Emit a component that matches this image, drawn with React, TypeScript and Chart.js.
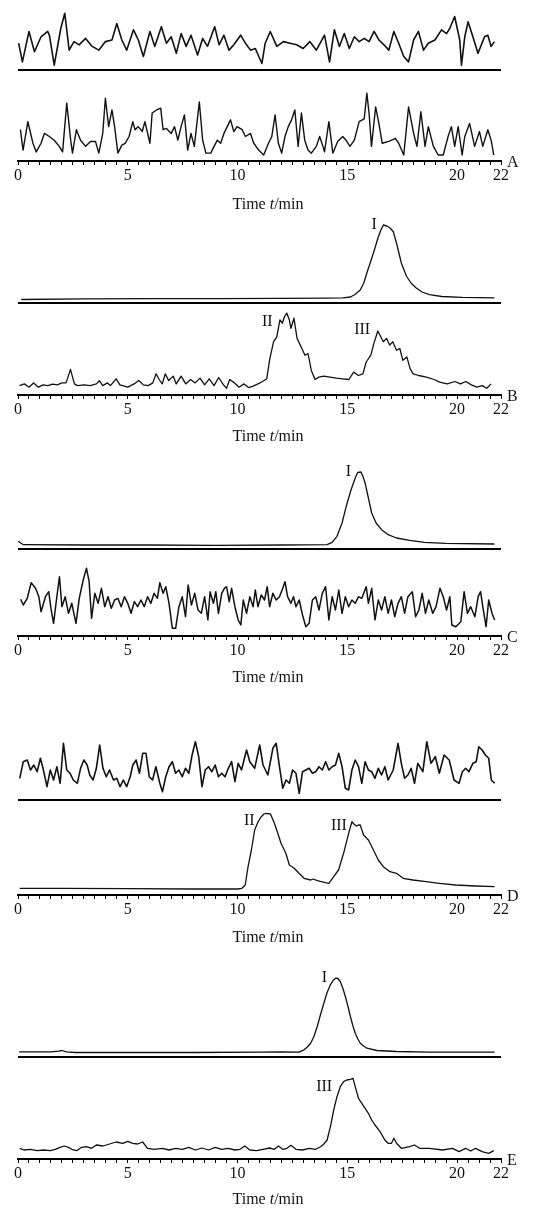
import React, { useEffect, useRef } from 'react';
import { Chart, registerables } from 'chart.js';

Chart.register(...registerables);

const FONT = '"Liberation Serif", "Times New Roman", serif';
const INK = '#111';

// ---------- shared axis text ----------
const xTickLabels = [0, 5, 10, 15, 20, 22];
const xMin = 0;
const xMax = 22;
const xMinorStep = 0.5;
const titleParts: [string, boolean][] = [['Time ', false], ['t', true], ['/min', false]];

// ---------- Panel A ----------
const aTopT = [0.03,0.20,0.50,0.75,1.05,1.35,1.43,1.65,1.95,2.13,2.33,2.55,2.78,3.08,3.38,3.68,3.98,4.28,4.50,4.73,4.95,5.26,5.48,5.71,6.01,6.23,6.53,6.76,6.98,7.21,7.43,7.66,7.88,8.18,8.41,8.63,8.96,9.16,9.38,9.61,9.83,10.14,10.36,10.59,10.81,11.11,11.26,11.49,11.79,12.09,12.39,12.69,12.99,13.29,13.59,13.96,14.19,14.41,14.64,14.86,15.09,15.32,15.54,15.77,15.99,16.22,16.44,16.67,16.89,17.12,17.34,17.57,17.79,18.02,18.24,18.47,18.69,18.99,19.29,19.52,19.67,19.89,20.12,20.20,20.35,20.50,20.72,20.95,21.25,21.40,21.55,21.70];
const aTopV = [44,9,66,28,56,66,59,3,72,100,31,47,41,53,38,31,47,50,81,50,31,69,50,19,66,38,75,44,56,25,62,38,59,22,53,38,75,41,59,31,41,59,44,31,34,6,44,66,38,47,44,41,34,47,31,59,9,69,38,62,34,56,47,53,47,66,50,41,31,66,44,19,9,50,66,31,44,50,69,62,72,94,50,3,56,84,56,25,56,59,38,47];
const aBotT = [0.11,0.23,0.45,0.68,0.83,1.05,1.20,1.43,1.65,1.88,2.03,2.22,2.40,2.48,2.66,2.85,3.08,3.30,3.53,3.68,3.86,3.98,4.13,4.28,4.40,4.55,4.73,4.88,5.06,5.23,5.33,5.48,5.66,5.78,6.01,6.11,6.31,6.50,6.61,6.76,6.98,7.13,7.28,7.43,7.58,7.73,7.88,8.03,8.26,8.41,8.56,8.78,8.93,9.08,9.23,9.38,9.68,9.83,9.98,10.21,10.36,10.59,10.74,10.96,11.19,11.41,11.56,11.71,11.86,12.01,12.16,12.31,12.46,12.61,12.76,12.91,13.06,13.21,13.36,13.59,13.74,13.89,13.96,14.16,14.34,14.56,14.79,14.94,15.12,15.32,15.54,15.69,15.77,15.89,15.99,16.10,16.29,16.44,16.59,16.89,17.19,17.34,17.57,17.79,18.02,18.17,18.35,18.54,18.69,18.92,19.14,19.37,19.59,19.74,19.89,20.05,20.23,20.35,20.57,20.80,21.02,21.17,21.40,21.55,21.67];
const aBotV = [41,8,54,19,5,19,35,30,24,14,5,84,24,3,41,24,14,22,22,3,35,92,46,73,46,3,16,19,30,54,41,46,38,54,19,68,73,76,41,43,35,46,24,46,65,8,35,14,86,24,3,3,14,24,19,35,57,38,46,41,30,35,19,8,0,19,30,65,19,3,30,46,57,73,14,68,24,8,3,14,30,14,5,54,3,22,30,24,14,24,54,57,59,100,68,14,78,51,19,22,27,19,0,78,35,14,70,14,46,14,0,0,30,46,14,46,0,30,51,14,38,14,41,24,0];

// ---------- Panel B ----------
const bTopT = [0.15,3,6,9,12,14,14.8,15.14,15.35,15.59,15.75,15.89,16.04,16.19,16.3,16.41,16.53,16.64,16.8,16.95,17.09,17.24,17.35,17.46,17.69,17.9,18.14,18.4,18.74,19.3,20.24,21.7];
const bTopV = [3.5,4.2,4.4,4.3,4.6,4.8,5.2,6,8.5,13,20,30,40,50,58,66,73,78,77,75,71.5,60,50,40,27,20,15,11,8.3,6.5,5.7,5.2];
const bBotT = [0.07,0.29,0.50,0.71,0.93,1.14,1.36,1.57,1.79,2.00,2.19,2.39,2.57,2.71,3.00,3.29,3.57,3.71,3.86,4.07,4.21,4.47,4.64,5.00,5.29,5.50,5.71,5.93,6.14,6.29,6.43,6.57,6.71,6.86,7.07,7.21,7.43,7.64,7.86,8.07,8.29,8.50,8.71,8.93,9.14,9.36,9.50,9.64,9.86,10.07,10.29,10.50,10.71,10.93,11.14,11.33,11.47,11.64,11.79,11.93,12.04,12.14,12.24,12.36,12.43,12.57,12.71,12.93,13.07,13.21,13.36,13.53,13.71,13.93,14.21,14.50,14.79,15.07,15.29,15.50,15.71,15.86,16.07,16.21,16.39,16.50,16.64,16.79,16.93,17.07,17.24,17.39,17.53,17.71,17.86,18.00,18.25,18.60,18.95,19.20,19.55,19.90,20.15,20.40,20.65,20.90,21.15,21.35,21.55];
const bBotV = [9.4,11.1,7.8,12.1,7.8,10.1,9.4,10.8,10.1,12.1,12.1,25.6,11.1,9.4,10.1,9.4,11.1,14.2,9.4,12.1,9.4,16.2,10.1,7.8,11.1,14.5,10.1,9.4,12.1,21.2,15.5,11.1,21.2,14.5,18.9,11.1,18.9,11.1,15.5,12.1,16.9,10.1,16.2,9.4,17.5,10.1,6.7,15.5,12.1,7.8,11.1,7.4,8.8,11.1,13.5,16.2,36.4,53.2,58.3,75.2,71.8,78.5,81.9,75.2,66.7,76.8,56.6,46.5,39.8,41.5,24.6,15.5,17.9,18.9,17.9,16.9,16.2,15.5,22.9,19.5,21.2,33.0,39.8,51.6,64.0,59.3,53.2,56.6,49.9,53.2,44.8,46.5,34.7,38.1,26.3,21.2,19.5,17.9,15.5,12.8,11.1,13.5,11.1,13.5,10.1,7.8,9.4,6.7,11.1];

// ---------- Panel C ----------
const cTopT = [0.0,0.25,3,6,9,12,14.08,14.31,14.53,14.76,14.95,15.17,15.36,15.48,15.62,15.71,15.81,15.96,16.11,16.31,16.56,16.86,17.24,17.84,18.51,19.49,21.7];
const cTopV = [7.7,4.3,4.0,4.0,3.7,4.0,4.3,6.7,12.7,26,42.7,59.3,71,76.7,77,72.7,66,51,36,26,19.3,14.3,11,8.7,6.7,5.7,5];
const cBotT = [0.12,0.24,0.42,0.60,0.80,0.95,1.05,1.25,1.40,1.50,1.62,1.77,1.89,2.00,2.15,2.30,2.45,2.64,2.79,2.97,3.12,3.24,3.35,3.50,3.65,3.80,3.95,4.10,4.25,4.40,4.55,4.70,4.85,5.00,5.15,5.30,5.45,5.60,5.75,5.90,6.05,6.20,6.35,6.46,6.61,6.73,6.88,7.03,7.18,7.33,7.48,7.63,7.75,7.90,8.05,8.20,8.35,8.50,8.65,8.75,8.90,9.01,9.13,9.28,9.40,9.50,9.62,9.73,9.88,10.03,10.15,10.26,10.41,10.56,10.71,10.81,10.93,11.08,11.23,11.35,11.46,11.61,11.76,11.91,12.06,12.16,12.28,12.43,12.55,12.66,12.81,12.96,13.11,13.26,13.41,13.56,13.71,13.86,14.01,14.16,14.31,14.46,14.61,14.76,14.91,15.06,15.21,15.36,15.51,15.66,15.86,15.96,16.11,16.26,16.41,16.56,16.71,16.86,17.01,17.16,17.31,17.46,17.61,17.76,17.96,18.11,18.26,18.41,18.56,18.71,18.89,19.04,19.22,19.37,19.52,19.67,19.76,19.94,20.17,20.32,20.47,20.62,20.81,20.96,21.07,21.17,21.32,21.44,21.59,21.71];
const cBotV = [36.7,31,37.7,53.3,47.7,39.3,24.3,39.3,44.3,27.7,12.7,39.3,59.3,29.3,39.3,22.7,32.7,12.7,37.7,56,67.7,54.3,17.7,42.7,32.7,47.7,29.3,39.3,27.7,36,37.7,29.3,39.3,32.7,22.7,34.3,29.3,36,29.3,39.3,32.7,42.7,37.7,53.3,42.7,49.3,32.7,7.7,7.7,29.3,39.3,19.3,51,31,42.7,26,22.7,39.3,16,44.3,32.7,44.3,22.7,42.7,47.7,49.3,34.3,47.7,29.3,16,11,36,22.7,39.3,29.3,46,29.3,41,36,49.3,29.3,42.7,36,39.3,47.7,54.3,39.3,32.7,39.3,29.3,36,21,9.3,12.7,36,39.3,26,42.7,49.3,16,39.3,26,46,22.7,39.3,29.3,36,32.7,39.3,37.7,49.3,32.7,47.7,16,36,26,39.3,22.7,36,19.3,32.7,39.3,22.7,39.3,44.3,19.3,26,42.7,22.7,36,22.7,29.3,47.7,39.3,26,39.3,11,9.3,14.3,44.3,22.7,29.3,19.3,39.3,44.3,29.3,9.3,36,22.7,16];

// ---------- Panel D ----------
const dTopT = [0.08,0.24,0.42,0.57,0.72,0.87,1.02,1.14,1.32,1.47,1.62,1.77,1.92,2.07,2.22,2.37,2.52,2.70,2.85,3.00,3.15,3.27,3.42,3.57,3.72,3.87,4.02,4.17,4.35,4.50,4.65,4.80,4.95,5.11,5.23,5.38,5.53,5.68,5.83,5.98,6.13,6.28,6.46,6.58,6.73,6.88,7.03,7.18,7.33,7.48,7.63,7.78,7.93,8.08,8.23,8.38,8.53,8.68,8.83,8.98,9.13,9.28,9.43,9.58,9.73,9.88,10.03,10.18,10.41,10.56,10.78,11.01,11.16,11.38,11.61,11.76,11.91,12.06,12.21,12.36,12.51,12.66,12.81,12.96,13.11,13.26,13.41,13.56,13.71,13.86,14.01,14.16,14.31,14.46,14.61,14.76,14.91,15.06,15.21,15.36,15.51,15.66,15.81,15.96,16.11,16.26,16.41,16.56,16.71,16.86,17.09,17.31,17.46,17.61,17.76,17.91,18.06,18.21,18.44,18.62,18.81,19.01,19.19,19.41,19.64,19.86,20.09,20.24,20.39,20.54,20.72,20.87,20.99,21.14,21.29,21.44,21.56,21.71];
const dTopV = [21.7,38.3,40,30,35,28.3,41.7,31.7,13.3,30,20,33.3,16.7,56.7,30,26.7,20,16.7,31.7,40,35,25,20,31.7,55,31.7,23.3,30,20,21.7,13.3,20,13.3,23.3,35,40,26.7,46.7,46.7,23.3,20,33.3,16.7,8.3,23.3,33.3,38.3,26.7,30,23.3,31.7,26.7,45,58.3,43.3,13.3,30,33.3,28.3,35,23.3,26.7,23.3,31.7,38.3,18.3,36.7,30,50,38.3,31.7,55,35,25,51.7,56.7,33.3,11.7,20,16.7,30,26.7,6.7,28.3,30,31.7,26.7,28.3,33.3,30,38.3,30,33.3,35,46.7,33.3,11.7,10,30,40,33.3,16.7,38.3,30,28.3,21.7,31.7,25,33.3,20,30,56.7,36.7,21.7,25,31.7,16.7,36.7,28.3,58.3,36.7,43.3,26.7,45,40,20,16.7,28.3,31.7,28.3,36.7,38.3,53.3,50,45,41.7,20,16.7];
const dBotT = [0.08,2,5,8,10.0,10.2,10.35,10.48,10.63,10.78,10.93,11.08,11.2,11.3,11.5,11.68,11.83,11.98,12.2,12.36,12.58,12.8,13.03,13.33,13.45,13.63,14.0,14.16,14.38,14.6,14.83,15.06,15.21,15.3,15.41,15.5,15.59,15.74,15.96,16.19,16.41,16.64,16.94,17.24,17.54,17.99,18.59,19.19,19.94,20.84,21.71];
const dBotV = [6.7,6.7,6.3,6.0,6.0,6.7,10,28.3,45,65,73,78.3,81,81.7,81,71.7,62,51.7,41.7,30,26.7,21.7,16.7,15,16,14.3,12.3,11.7,18.3,25,41.7,61.7,73.3,71,69,70,70,60,55,45,35,28.3,23.3,21.7,16.7,15,13.3,11.7,10,9,8.3];

// ---------- Panel E ----------
const eTopT = [0.05,1.5,1.85,2.0,2.2,2.6,5,8,11,12,12.8,13.03,13.18,13.33,13.48,13.63,13.78,13.93,14.08,14.23,14.35,14.46,14.57,14.68,14.8,14.91,15.03,15.14,15.25,15.36,15.48,15.59,15.74,15.89,16.34,17.24,18.74,21.71];
const eTopV = [4.7,4.7,5.3,6.0,4.7,4.0,4.0,4.0,4.3,4.6,4.3,6.7,9.5,13.3,20,30,42,53.3,64,71.7,76,78.3,78,75,68,60,50,40,31,23.3,17.5,13.3,10.5,8.3,6.0,5.0,4.3,4.3];
const eBotT = [0.08,0.27,0.57,0.87,1.17,1.47,1.70,1.92,2.10,2.30,2.45,2.67,2.90,3.12,3.35,3.57,3.87,4.17,4.47,4.77,5.00,5.23,5.45,5.68,5.90,6.20,6.58,6.88,7.18,7.48,7.78,8.08,8.38,8.68,8.98,9.28,9.58,9.88,10.11,10.33,10.56,10.86,11.16,11.46,11.68,11.86,12.06,12.25,12.43,12.66,12.96,13.26,13.56,13.78,13.93,14.08,14.23,14.38,14.53,14.68,14.83,14.98,15.14,15.26,15.36,15.51,15.66,15.81,15.96,16.11,16.26,16.49,16.71,16.86,17.01,17.12,17.24,17.46,17.84,18.06,18.29,18.74,19.34,19.79,20.09,20.39,20.62,20.84,21.14,21.44,21.67];
const eBotV = [10.7,9,9.7,8.3,9,8.3,9.7,11.7,13,11.7,9.7,8.3,11.7,12.3,10.7,14,13,15,17,15.7,17.7,15.7,15,17,10.7,9.7,10.7,9,10.7,9.7,11.7,9,11,9,11.7,9.7,10.7,9,9.7,13,9,8.3,9.7,11,9.7,13,9.7,10.7,13.7,9.7,9,10.7,9.7,12.3,15,19,32.3,49,62.3,72.3,77.3,79,79.7,80.7,72.3,60.7,55.7,50.7,45.7,39,34,27.3,19,15.7,15.7,20.7,15.7,10.7,12.3,14,10.7,10.7,9,10.7,7.3,10.7,8,10.7,7.3,5.7,8.3];

// ---------- layout (page coordinates) ----------
type Trace = { t: number[]; v: number[]; base: number; k: number; width: number };
type PeakLabel = { text: string; axis: 'yTop' | 'yBot'; t: number; v: number };
type PanelCfg = {
  letter: string; top: number; height: number; chartTop: number; sep: number; axis: number; timeY: number;
  upper: Trace; lower: Trace; labels: PeakLabel[];
};

const PANELS: PanelCfg[] = [
  {
    letter: 'A', top: 0, height: 214, chartTop: 8, sep: 70, axis: 161, timeY: 209,
    upper: { t: aTopT, v: aTopV, base: 3.3, k: 0.534, width: 1.6 },
    lower: { t: aBotT, v: aBotV, base: 6, k: 0.617, width: 1.4 },
    labels: [],
  },
  {
    letter: 'B', top: 214, height: 236, chartTop: 218, sep: 303, axis: 395, timeY: 441,
    upper: { t: bTopT, v: bTopV, base: 0, k: 1, width: 1.3 },
    lower: { t: bBotT, v: bBotV, base: 0, k: 1, width: 1.3 },
    labels: [
      { text: 'I', axis: 'yTop', t: 16.34, v: 78 },
      { text: 'II', axis: 'yBot', t: 11.6, v: 73 },
      { text: 'III', axis: 'yBot', t: 16.04, v: 65 },
    ],
  },
  {
    letter: 'C', top: 450, height: 250, chartTop: 462, sep: 549, axis: 636, timeY: 682,
    upper: { t: cTopT, v: cTopV, base: 0, k: 1, width: 1.3 },
    lower: { t: cBotT, v: cBotV, base: 0, k: 1, width: 1.5 },
    labels: [{ text: 'I', axis: 'yTop', t: 15.17, v: 77 }],
  },
  {
    letter: 'D', top: 700, height: 258, chartTop: 734, sep: 800, axis: 895, timeY: 942,
    upper: { t: dTopT, v: dTopV, base: 0, k: 1, width: 1.6 },
    lower: { t: dBotT, v: dBotV, base: 0, k: 1, width: 1.3 },
    labels: [
      { text: 'II', axis: 'yBot', t: 10.78, v: 74 },
      { text: 'III', axis: 'yBot', t: 14.98, v: 69 },
    ],
  },
  {
    letter: 'E', top: 958, height: 251, chartTop: 966, sep: 1056.5, axis: 1159, timeY: 1204,
    upper: { t: eTopT, v: eTopV, base: 0, k: 1, width: 1.3 },
    lower: { t: eBotT, v: eBotV, base: 0, k: 1, width: 1.3 },
    labels: [
      { text: 'I', axis: 'yTop', t: 14.08, v: 79 },
      { text: 'III', axis: 'yBot', t: 14.31, v: 72 },
    ],
  },
];

const PAGE_W = 550;
const PLOT_LEFT = 18;
const PLOT_RIGHT = 501;
const TITLE_CX = 268;
const X_AXIS_H = 24;

function buildConfig(p: PanelCfg): any {
  const up = p.upper;
  const lo = p.lower;
  const topL = p.chartTop - p.top;
  const axisL = p.axis - p.top;
  const yTopMin = (p.sep - p.axis - up.base) / up.k;
  const yTopMax = (p.sep - p.chartTop - up.base) / up.k;
  const sepV = -up.base / up.k;
  const yBotMin = -lo.base / lo.k;
  const yBotMax = (p.axis - p.chartTop - lo.base) / lo.k;
  const pts = (t: number[], v: number[]) => t.map((x, i) => ({ x, y: v[i] }));

  const textPlugin = {
    id: 'panelText' + p.letter,
    afterDraw(chart: any) {
      const ctx = chart.ctx as CanvasRenderingContext2D;
      const xs = chart.scales.x;
      ctx.save();
      ctx.fillStyle = INK;
      ctx.font = `16px ${FONT}`;
      ctx.textAlign = 'right';
      ctx.textBaseline = 'middle';
      for (const lab of p.labels) {
        const ys = chart.scales[lab.axis];
        ctx.fillText(lab.text, xs.getPixelForValue(lab.t), ys.getPixelForValue(lab.v));
      }
      ctx.textAlign = 'left';
      ctx.textBaseline = 'alphabetic';
      ctx.fillText(p.letter, xs.right + 6, xs.top + 6);
      // axis title with italic t
      const widths = titleParts.map(([s, it]) => {
        ctx.font = `${it ? 'italic ' : ''}16px ${FONT}`;
        return ctx.measureText(s).width;
      });
      const total = widths.reduce((a, b) => a + b, 0);
      let x = TITLE_CX - total / 2;
      const y = p.timeY - p.top;
      titleParts.forEach(([s, it], i) => {
        ctx.font = `${it ? 'italic ' : ''}16px ${FONT}`;
        ctx.fillText(s, x, y);
        x += widths[i];
      });
      ctx.restore();
    },
  };

  const line = (tr: Trace, axisId: string) => ({
    data: pts(tr.t, tr.v),
    xAxisID: 'x',
    yAxisID: axisId,
    borderColor: INK,
    borderWidth: tr.width,
    pointRadius: 0,
    tension: 0,
    fill: false,
    borderJoinStyle: 'round',
  });

  return {
    type: 'line',
    data: { datasets: [line(up, 'yTop'), line(lo, 'yBot')] },
    options: {
      responsive: false,
      animation: false,
      events: [],
      layout: {
        padding: {
          left: PLOT_LEFT,
          right: PAGE_W - PLOT_RIGHT,
          top: topL,
          bottom: p.height - axisL - X_AXIS_H,
        },
      },
      plugins: { legend: { display: false }, tooltip: { enabled: false }, title: { display: false } },
      scales: {
        x: {
          type: 'linear',
          position: 'bottom',
          min: xMin,
          max: xMax,
          afterFit: (s: any) => { s.height = X_AXIS_H; },
          grid: { display: true, drawOnChartArea: false, drawTicks: true, tickLength: 4, color: '#000', lineWidth: 1 },
          border: { display: true, color: '#000', width: 2 },
          ticks: {
            stepSize: xMinorStep,
            autoSkip: false,
            maxRotation: 0,
            minRotation: 0,
            padding: 1,
            color: INK,
            font: { family: FONT, size: 16 },
            callback: (v: number) => (xTickLabels.includes(v) ? String(v) : ''),
          },
        },
        yTop: {
          type: 'linear',
          position: 'left',
          min: yTopMin,
          max: yTopMax,
          afterBuildTicks: (s: any) => { s.ticks = [{ value: sepV }]; },
          afterFit: (s: any) => { s.width = 0; },
          ticks: { display: false },
          grid: { display: true, drawTicks: false, color: '#000', lineWidth: 2 },
          border: { display: false },
        },
        yBot: {
          type: 'linear',
          position: 'left',
          display: false,
          min: yBotMin,
          max: yBotMax,
        },
      },
    },
    plugins: [textPlugin],
  };
}

function Panel({ cfg }: { cfg: PanelCfg }) {
  const ref = useRef<HTMLCanvasElement>(null);
  useEffect(() => {
    const canvas = ref.current;
    if (!canvas) return;
    const chart = new Chart(canvas, buildConfig(cfg));
    return () => chart.destroy();
  }, [cfg]);
  return (
    <canvas
      ref={ref}
      width={PAGE_W}
      height={cfg.height}
      style={{ position: 'absolute', left: 0, top: cfg.top, width: PAGE_W, height: cfg.height, display: 'block' }}
    />
  );
}

export default function App() {
  return (
    <div style={{ position: 'absolute', left: 0, top: 0, width: 550, height: 1209, overflow: 'hidden', background: '#fff' }}>
      {PANELS.map((p) => (
        <Panel key={p.letter} cfg={p} />
      ))}
    </div>
  );
}
